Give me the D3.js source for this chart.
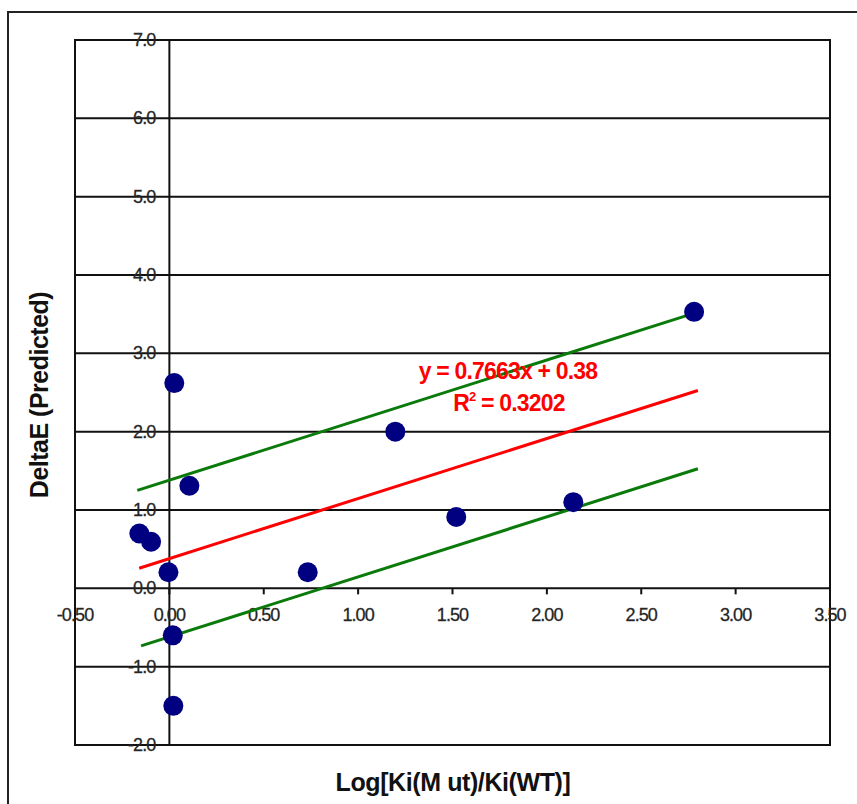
<!DOCTYPE html>
<html>
<head>
<meta charset="utf-8">
<script src="https://cdn.jsdelivr.net/npm/d3@7"></script>
<style>
  html, body { margin: 0; padding: 0; background: #fff; }
  svg { display: block; font-family: "Liberation Sans", Arial, sans-serif; }
</style>
</head>
<body>
<svg id="chart" width="857" height="804"></svg>
<script>
// ----------------------------
// Data
// ----------------------------
const xVals = [2.78, 0.026, 1.197, 0.106, -0.159, -0.097, -0.005, 0.733, 1.52, 2.14, 0.018, 0.021];
const yVals = [3.53, 2.62, 2.00, 1.31, 0.70, 0.595, 0.205, 0.205, 0.91, 1.10, -0.60, -1.50];

// fitted line and the two band lines, as drawn endpoints [x, y]
const trendLine = [[-0.16, 0.257], [2.80, 2.526]];
const upperLine = [[-0.17, 1.25], [2.79, 3.52]];
const lowerLine = [[-0.15, -0.735], [2.80, 1.526]];

const xTicks = [-0.5, 0, 0.5, 1.0, 1.5, 2.0, 2.5, 3.0, 3.5];
const yTicks = [7, 6, 5, 4, 3, 2, 1, 0, -1, -2];

const eqText = "y = 0.7663x + 0.38";
const r2Value = "0.3202";

// ----------------------------
// Plotting
// ----------------------------
const svg = d3.select("#chart");

const plot = { left: 75, right: 830, top: 40, bottom: 745 };

const xScale = d3.scaleLinear().domain([-0.5, 3.5]).range([plot.left, plot.right]);
const yScale = d3.scaleLinear().domain([-2, 7]).range([plot.bottom, plot.top]);

// outer chart frame
svg.append("rect")
    .attr("x", 8).attr("y", 12)
    .attr("width", 900).attr("height", 900)
    .attr("fill", "none")
    .attr("stroke", "#222")
    .attr("stroke-width", 2);

const g = svg.append("g");

// horizontal gridlines
g.selectAll("line.grid")
  .data(yTicks)
  .join("line")
    .attr("class", "grid")
    .attr("x1", plot.left).attr("x2", plot.right)
    .attr("y1", d => yScale(d)).attr("y2", d => yScale(d))
    .attr("stroke", "#111")
    .attr("stroke-width", 2);

// plot area border
g.append("rect")
    .attr("x", plot.left).attr("y", plot.top)
    .attr("width", plot.right - plot.left).attr("height", plot.bottom - plot.top)
    .attr("fill", "none")
    .attr("stroke", "#111")
    .attr("stroke-width", 2);

// y axis at x = 0
g.append("line")
    .attr("x1", xScale(0)).attr("x2", xScale(0))
    .attr("y1", plot.top).attr("y2", plot.bottom)
    .attr("stroke", "#111")
    .attr("stroke-width", 2);

// x axis tick marks on the y = 0 line
g.selectAll("line.xtick")
  .data(xTicks)
  .join("line")
    .attr("class", "xtick")
    .attr("x1", d => xScale(d)).attr("x2", d => xScale(d))
    .attr("y1", yScale(0)).attr("y2", yScale(0) + 6)
    .attr("stroke", "#111")
    .attr("stroke-width", 2);

// x tick labels
g.selectAll("text.xlab")
  .data(xTicks)
  .join("text")
    .attr("class", "xlab")
    .attr("x", d => xScale(d))
    .attr("y", yScale(0) + 33)
    .attr("text-anchor", "middle")
    .attr("font-size", 18)
    .attr("letter-spacing", -0.9)
    .attr("stroke", "#333")
    .attr("stroke-width", 0.3)
    .attr("fill", "#222")
    .text(d => d3.format(".2f")(d).replace("−", "-"));

// y tick labels (sit on the gridlines)
g.selectAll("text.ylab")
  .data(yTicks)
  .join("text")
    .attr("class", "ylab")
    .attr("x", xScale(0) - 14)
    .attr("y", d => yScale(d) + 6)
    .attr("text-anchor", "end")
    .attr("font-size", 18)
    .attr("letter-spacing", -0.9)
    .attr("stroke", "#333")
    .attr("stroke-width", 0.3)
    .attr("fill", "#222")
    .text(d => d3.format(".1f")(d).replace("−", "-"));

// lines
const lineGen = d3.line()
    .x(d => xScale(d[0]))
    .y(d => yScale(d[1]));

[upperLine, lowerLine].forEach(l => {
  g.append("path")
      .datum(l)
      .attr("fill", "none")
      .attr("stroke", "#0a7a0a")
      .attr("stroke-width", 3)
      .attr("d", lineGen);
});

g.append("path")
    .datum(trendLine)
    .attr("fill", "none")
    .attr("stroke", "#ff0000")
    .attr("stroke-width", 3)
    .attr("d", lineGen);

// points
g.selectAll("circle.pt")
  .data(d3.zip(xVals, yVals))
  .join("circle")
    .attr("class", "pt")
    .attr("cx", d => xScale(d[0]))
    .attr("cy", d => yScale(d[1]))
    .attr("r", 10)
    .attr("fill", "#000080");

// equation label
g.append("text")
    .attr("x", 508).attr("y", 379)
    .attr("text-anchor", "middle")
    .attr("font-size", 23)
    .attr("font-weight", "bold")
    .attr("letter-spacing", -0.8)
    .attr("fill", "#ff0000")
    .text(eqText);

const r2 = g.append("text")
    .attr("x", 509).attr("y", 411)
    .attr("text-anchor", "middle")
    .attr("font-size", 23)
    .attr("font-weight", "bold")
    .attr("letter-spacing", -0.8)
    .attr("fill", "#ff0000");
r2.append("tspan").text("R");
r2.append("tspan").attr("font-size", 13).attr("dy", -10).text("2");
r2.append("tspan").attr("dy", 10).text(" = " + r2Value);

// axis titles
svg.append("text")
    .attr("x", 453).attr("y", 791)
    .attr("text-anchor", "middle")
    .attr("font-size", 25)
    .attr("font-weight", "bold")
    .attr("letter-spacing", -0.4)
    .attr("fill", "#111")
    .text("Log[Ki(M ut)/Ki(WT)]");

svg.append("text")
    .attr("transform", "translate(48,395) rotate(-90)")
    .attr("text-anchor", "middle")
    .attr("font-size", 25)
    .attr("font-weight", "bold")
    .attr("letter-spacing", -0.5)
    .attr("fill", "#111")
    .text("DeltaE (Predicted)");
</script>
</body>
</html>
